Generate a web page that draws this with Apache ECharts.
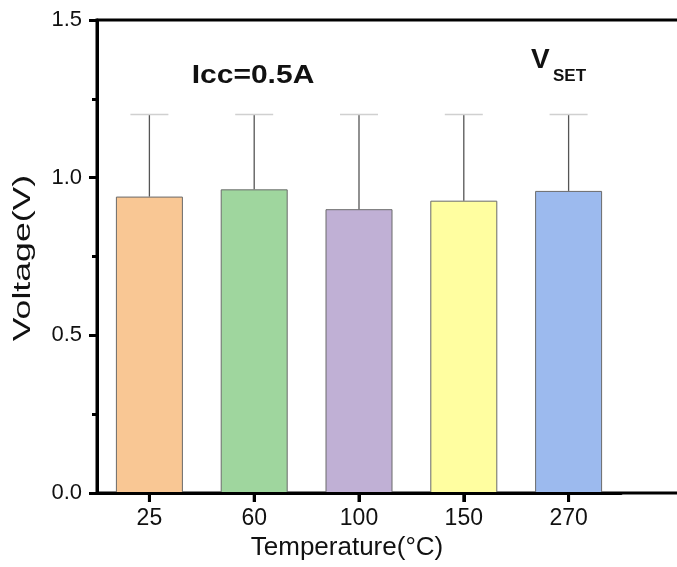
<!DOCTYPE html>
<html>
<head>
<meta charset="utf-8">
<script src="https://cdn.jsdelivr.net/npm/echarts@6/dist/echarts.min.js"></script>
<style>html,body{margin:0;padding:0;background:#fff}#c{width:677px;height:567px}</style>
</head>
<body>
<div id="c"></div>
<script>
const categories = ['25', '60', '100', '150', '270'];
const voltages = [0.94, 0.963, 0.90, 0.927, 0.958];
const errorTops = [1.2, 1.2, 1.2, 1.2, 1.2];
const barColors = ['#F9C794', '#9FD69E', '#C0B0D5', '#FFFEA0', '#9CBAEE'];
const yTicks = [0, 0.5, 1.0, 1.5];

const FONT = 'Liberation Sans, Arial, sans-serif';
const chart = echarts.init(document.getElementById('c'));

chart.setOption({
  animation: false,
  backgroundColor: '#fff',
  grid: [
    { left: 97, top: 20, height: 473, width: 524, outerBoundsMode: 'none', containLabel: false },
    { left: 97, top: 20, height: 473, width: 590, outerBoundsMode: 'none', containLabel: false, show: true, borderColor: '#000', borderWidth: 3, backgroundColor: 'transparent', z: 0 }
  ],
  xAxis: [
    {
      type: 'category',
      gridIndex: 0,
      data: categories,
      boundaryGap: true,
      z: 5,
      axisLine: { show: true, lineStyle: { color: '#000', width: 3 } },
      axisTick: { show: true, inside: false, alignWithLabel: true, length: 9, lineStyle: { color: '#000', width: 3 } },
      axisLabel: { color: '#111', fontSize: 23, fontFamily: FONT, margin: 14 },
      splitLine: { show: false }
    },
    { type: 'value', gridIndex: 1, show: false, min: 0, max: 1 }
  ],
  yAxis: [
    {
      type: 'value',
      gridIndex: 0,
      min: yTicks[0], max: yTicks[yTicks.length - 1], interval: 0.5,
      axisLine: { show: true, lineStyle: { color: '#000', width: 3 } },
      axisTick: { show: true, length: 8, lineStyle: { color: '#000', width: 3 } },
      minorTick: { show: true, splitNumber: 2, length: 5, lineStyle: { color: '#000', width: 3 } },
      axisLabel: { color: '#111', fontSize: 22, fontFamily: FONT, margin: 15, formatter: v => v.toFixed(1) },
      splitLine: { show: false }
    },
    { type: 'value', gridIndex: 1, show: false, min: 0, max: 1 }
  ],
  series: [
    {
      type: 'bar',
      xAxisIndex: 0, yAxisIndex: 0,
      barWidth: 67,
      data: voltages.map((v, i) => ({ value: v, itemStyle: { color: barColors[i] } })),
      itemStyle: { borderColor: '#6a6a6a', borderWidth: 1 },
      z: 2
    },
    {
      type: 'custom',
      xAxisIndex: 0, yAxisIndex: 0,
      z: 3,
      data: voltages.map((v, i) => [i, v, errorTops[i]]),
      renderItem: function (params, api) {
        const i = api.value(0);
        const base = api.coord([i, api.value(1)]);
        const top = api.coord([i, api.value(2)]);
        const half = 19;
        return {
          type: 'group',
          children: [
            { type: 'line', shape: { x1: base[0], y1: base[1], x2: top[0], y2: top[1] }, style: { stroke: '#555', lineWidth: 1.3 } },
            { type: 'line', shape: { x1: top[0] - half, y1: top[1], x2: top[0] + half, y2: top[1] }, style: { stroke: '#d0d0d0', lineWidth: 1.5 } }
          ]
        };
      }
    },
    {
      // outward category ticks on the bottom axis, positioned by the category scale
      type: 'custom',
      xAxisIndex: 0, yAxisIndex: 0,
      z: 6,
      clip: false,
      silent: true,
      data: categories.map((c, i) => [i, yTicks[0]]),
      renderItem: function (params, api) {
        const p = api.coord([api.value(0), api.value(1)]);
        return { type: 'line', shape: { x1: p[0], y1: p[1], x2: p[0], y2: p[1] + 9 }, style: { stroke: '#000', lineWidth: 3 } };
      }
    }
  ],
  graphic: [
    { type: 'text', x: 24, y: 258, rotation: Math.PI / 2, scaleX: 1.55, style: { text: 'Voltage(V)', fontSize: 23, fontFamily: FONT, fill: '#111', textAlign: 'center', textVerticalAlign: 'middle' } },
    { type: 'text', x: 347, y: 548, style: { text: 'Temperature(°C)', fontSize: 26, fontFamily: FONT, fill: '#111', textAlign: 'center', textVerticalAlign: 'middle' } },
    { type: 'text', x: 253, y: 76, scaleX: 1.2, style: { text: 'Icc=0.5A', fontSize: 25, fontWeight: 'bold', fontFamily: FONT, fill: '#111', textAlign: 'center', textVerticalAlign: 'middle' } },
    { type: 'text', x: 531, y: 74, style: { text: 'V', fontSize: 28, fontWeight: 'bold', fontFamily: FONT, fill: '#111', textAlign: 'left', textVerticalAlign: 'bottom' } },
    { type: 'text', x: 553, y: 85, style: { text: 'SET', fontSize: 17, fontWeight: 'bold', fontFamily: FONT, fill: '#111', textAlign: 'left', textVerticalAlign: 'bottom' } }
  ]
});
</script>
</body>
</html>
